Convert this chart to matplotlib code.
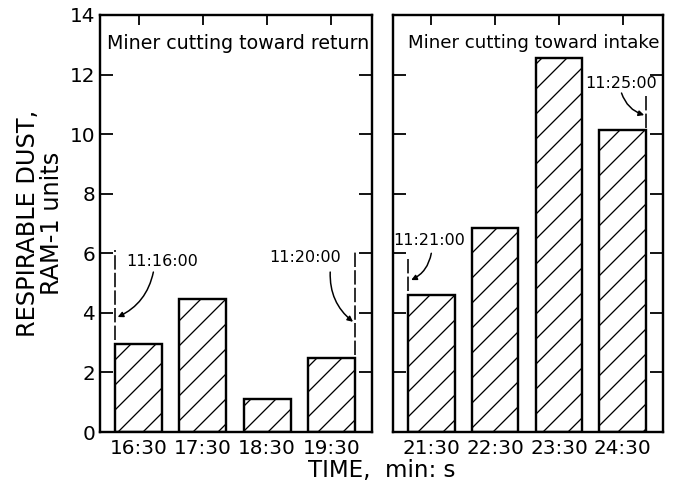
import matplotlib
matplotlib.use("Agg")
import matplotlib.pyplot as plt

# ---------------------------------------------------------------------------
# Data
# ---------------------------------------------------------------------------

left_labels = ["16:30", "17:30", "18:30", "19:30"]
left_values = [2.95, 4.45, 1.1, 2.5]

right_labels = ["21:30", "22:30", "23:30", "24:30"]
right_values = [4.6, 6.85, 12.55, 10.15]

left_title = "Miner cutting toward return"
right_title = "Miner cutting toward intake"

y_ticks = [0, 2, 4, 6, 8, 10, 12, 14]

# ---------------------------------------------------------------------------
# Style (sizes given in pixels; 150 dpi makes "//" hatching ~25 px apart)
# ---------------------------------------------------------------------------

DPI = 150
PX = 72.0 / DPI          # points per pixel
BAR_W = 0.73

plt.rcParams["font.family"] = ["DejaVu Sans"]
plt.rcParams["hatch.linewidth"] = 1.3 * PX
plt.rcParams["hatch.color"] = "black"

fig = plt.figure(figsize=(673 / DPI, 491 / DPI), dpi=DPI)
ax_l = fig.add_axes([100 / 673, 1 - 432 / 491, 272 / 673, 417 / 491])
ax_r = fig.add_axes([393 / 673, 1 - 432 / 491, 270 / 673, 417 / 491])


def style_axis(ax, labels, values, title, title_x, title_size, show_ylabels):
    x = list(range(len(values)))
    ax.bar(x, values, width=BAR_W, facecolor="white", edgecolor="black",
           linewidth=2.4 * PX, hatch="//", zorder=2)
    ax.set_xlim(-0.6, 3.63)
    ax.set_ylim(0, 14)
    ax.set_xticks(x)
    ax.set_xticklabels(labels)
    ax.set_yticks(y_ticks)
    if not show_ylabels:
        ax.set_yticklabels([])
    for sp in ax.spines.values():
        sp.set_linewidth(2.4 * PX)
    ax.tick_params(axis="x", direction="in", top=True, bottom=True,
                   length=10 * PX, width=1.8 * PX, labelsize=20 * PX, pad=7 * PX)
    ax.tick_params(axis="y", direction="in", left=True, right=True,
                   length=13 * PX, width=1.8 * PX, labelsize=20 * PX, pad=5 * PX)
    ax.text(title_x, 13.05, title, transform=ax.get_yaxis_transform(),
            ha="center", va="center", fontsize=title_size * PX)


style_axis(ax_l, left_labels, left_values, left_title, 0.507, 19, True)
style_axis(ax_r, right_labels, right_values, right_title, 0.52, 18.3, False)


def marker(ax, xline, y0, y1, text, tx, ty, sx, sy, ex, ey, rad):
    ax.plot([xline, xline], [y0, y1], color="black", linewidth=1.6 * PX,
            dashes=(9, 2), zorder=3)
    ax.text(tx, ty, text, ha="center", va="center", fontsize=16 * PX)
    ax.annotate("", xy=(ex, ey), xytext=(sx, sy),
                arrowprops=dict(arrowstyle="-|>", color="black", lw=1.5 * PX,
                                mutation_scale=11 * PX, shrinkA=0, shrinkB=0,
                                connectionstyle=f"arc3,rad={rad}"))


half = BAR_W / 2
# left panel
marker(ax_l, -half, left_values[0] + 0.15, 6.1, "11:16:00", 0.37, 5.74,
       0.23, 5.37, -half + 0.04, 3.86, -0.25)
marker(ax_l, 3 + half, left_values[3] + 0.1, 6.1, "11:20:00", 2.59, 5.87,
       2.98, 5.37, 3 + half - 0.03, 3.7, 0.25)
# right panel
marker(ax_r, -half, right_values[0] + 0.15, 5.84, "11:21:00", -0.04, 6.44,
       0.0, 6.0, -half + 0.05, 5.1, -0.25)
marker(ax_r, 3 + half, right_values[3] + 0.05, 11.3, "11:25:00", 2.97, 11.71,
       2.98, 11.38, 3 + half - 0.03, 10.64, 0.25)

fig.text(40 / 673, 1 - 223 / 491, "RESPIRABLE DUST,\nRAM-1 units", rotation=90,
         ha="center", va="center", multialignment="center", fontsize=24 * PX,
         linespacing=1.0)
fig.text(382 / 673, 1 - 470 / 491, "TIME,  min: s", ha="center", va="center",
         fontsize=23 * PX)

fig.savefig("out.png", dpi=DPI)
